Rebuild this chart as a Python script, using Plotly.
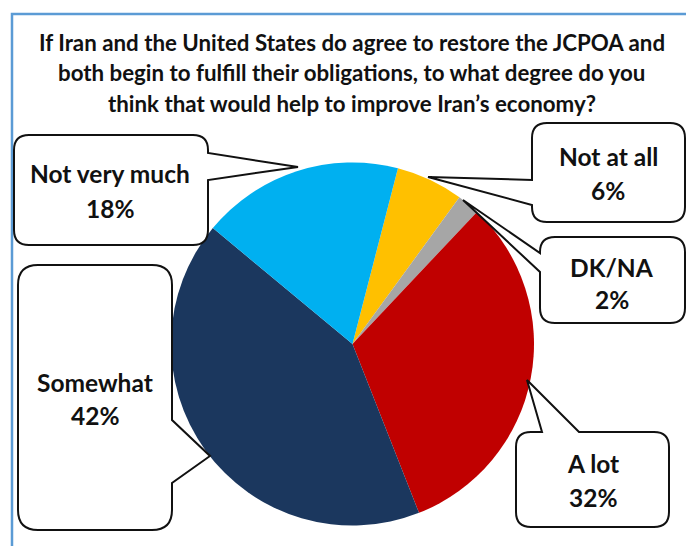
import plotly.graph_objects as go

# Survey responses (percent), listed clockwise from the top of the pie
categories = ["Not at all", "DK/NA", "A lot", "Somewhat", "Not very much"]
shares = [6, 2, 32, 42, 18]
slice_colors = ["#FFC000", "#A6A6A6", "#C00000", "#1B375E", "#00B0F0"]

title_lines = [
    "If Iran and the United States do agree to restore the JCPOA and",
    "both begin to fulfill their obligations, to what degree do you",
    "think that would help to improve Iran\u2019s economy?",
]

W, H = 686, 546
FONT = "Lato"


def px(x, y):
    """Pixel position -> paper coordinates (margins are zero)."""
    return x / W, 1 - y / H


def fmt(x, y):
    a, b = px(x, y)
    return f"{a:.5f},{b:.5f}"


def callout(x0, y0, x1, y1, r, side, a, b, tip):
    """Rounded box with a pointed tail leaving one side between a and b."""
    tx, ty = tip
    p = [f"M{fmt(x0 + r, y0)}"]
    if side == "top":
        p += [f"L{fmt(a, y0)}", f"L{fmt(tx, ty)}", f"L{fmt(b, y0)}"]
    p += [f"L{fmt(x1 - r, y0)}", f"Q{fmt(x1, y0)} {fmt(x1, y0 + r)}"]
    if side == "right":
        p += [f"L{fmt(x1, a)}", f"L{fmt(tx, ty)}", f"L{fmt(x1, b)}"]
    p += [f"L{fmt(x1, y1 - r)}", f"Q{fmt(x1, y1)} {fmt(x1 - r, y1)}"]
    p += [f"L{fmt(x0 + r, y1)}", f"Q{fmt(x0, y1)} {fmt(x0, y1 - r)}"]
    if side == "left":
        p += [f"L{fmt(x0, b)}", f"L{fmt(tx, ty)}", f"L{fmt(x0, a)}"]
    p += [f"L{fmt(x0, y0 + r)}", f"Q{fmt(x0, y0)} {fmt(x0 + r, y0)}", "Z"]
    return dict(type="path", xref="paper", yref="paper", path=" ".join(p),
                fillcolor="white", line=dict(color="#111111", width=2))


# Callout geometry and text anchors per category
callouts = {
    "Not very much": dict(box=(14, 135, 208, 245, 15), side="right", a=153, b=180,
                          tip=(298, 167), text=(110, 173, 208)),
    "Not at all": dict(box=(532, 123, 685, 222, 15), side="left", a=180, b=205,
                       tip=(428, 177), text=(608, 156, 190)),
    "DK/NA": dict(box=(540, 237, 685, 323, 15), side="left", a=253, b=272,
                  tip=(463, 200), text=(612, 267, 299)),
    "Somewhat": dict(box=(18, 265, 172, 530, 20), side="right", a=420, b=483,
                     tip=(210, 456), text=(95, 382, 415)),
    "A lot": dict(box=(516, 432, 669, 527, 15), side="top", a=542, b=579,
                  tip=(527, 380), text=(593, 463, 497)),
}

fig = go.Figure()

# Pie centred at (352.5, 344) px with radius ~181 px
cx, cy, rad = 352.5, 344, 181.5
fig.add_trace(go.Pie(
    labels=categories,
    values=shares,
    sort=False,
    direction="clockwise",
    rotation=14.5,
    marker=dict(colors=slice_colors, line=dict(width=0)),
    textinfo="none",
    hoverinfo="label+percent",
    showlegend=False,
    domain=dict(x=[(cx - rad) / W, (cx + rad) / W],
                y=[1 - (cy + rad) / H, 1 - (cy - rad) / H]),
))

shapes = [
    dict(type="path", xref="paper", yref="paper",
         path=f"M{fmt(12, H + 5)} L{fmt(12, 14)} L{fmt(W + 5, 14)}",
         line=dict(color="#5B9BD5", width=2.5)),
]
annotations = []

for line, y in zip(title_lines, [42.5, 73, 103.5]):
    x, yy = px(351.5, y)
    annotations.append(dict(text=line, x=x, y=yy, xref="paper", yref="paper",
                            xanchor="center", yanchor="middle", showarrow=False,
                            font=dict(family=FONT, size=22.3, color="#111111",
                                      weight="bold")))

for name, val in zip(categories, shares):
    c = callouts[name]
    x0, y0, x1, y1, r = c["box"]
    shapes.append(callout(x0, y0, x1, y1, r, c["side"], c["a"], c["b"], c["tip"]))
    tx, ty1, ty2 = c["text"]
    for txt, ty in ((name, ty1), (f"{val}%", ty2)):
        x, y = px(tx, ty)
        annotations.append(dict(text=txt, x=x, y=y, xref="paper", yref="paper",
                                xanchor="center", yanchor="middle", showarrow=False,
                                font=dict(family=FONT, size=24.5, color="#111111",
                                          weight="bold")))

fig.update_layout(
    width=W, height=H,
    margin=dict(l=0, r=0, t=0, b=0),
    paper_bgcolor="white",
    plot_bgcolor="white",
    shapes=shapes,
    annotations=annotations,
)

fig.write_html("out.html")
